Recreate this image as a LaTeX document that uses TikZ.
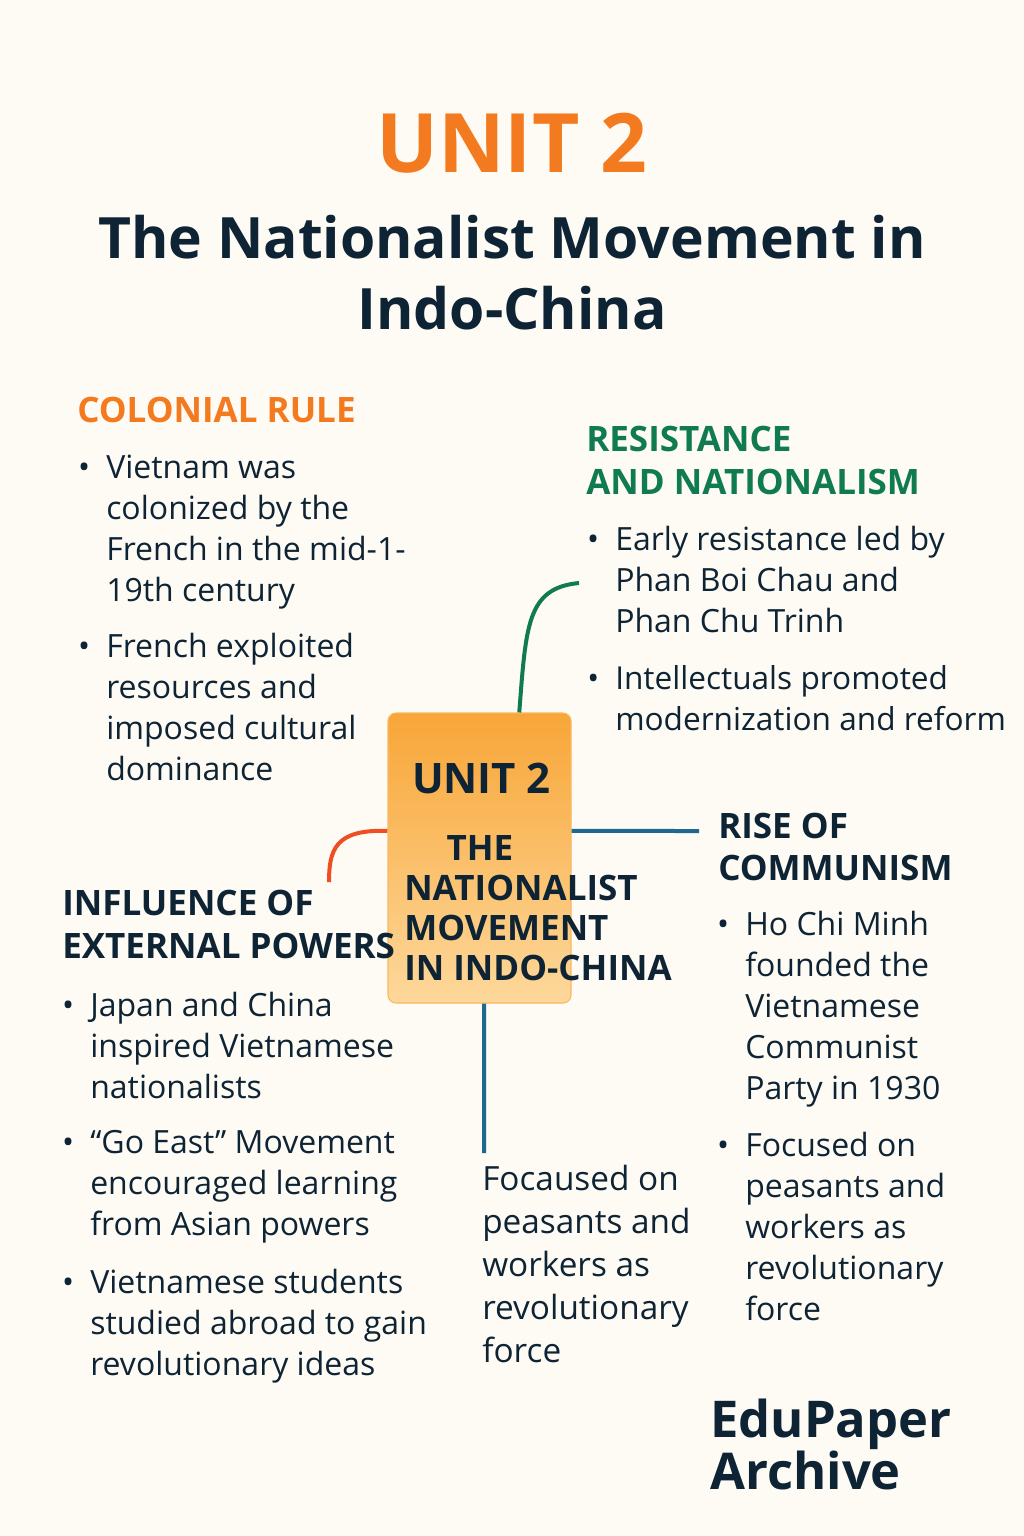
\documentclass[tikz,border=0pt]{standalone}
\usepackage{fontspec}
\setmainfont{Open Sans}
\usetikzlibrary{calc}
\definecolor{paper}{HTML}{FDFBF4}
\definecolor{ink}{HTML}{0E2334}
\definecolor{unitorange}{HTML}{F47A20}
\definecolor{resgreen}{HTML}{107A50}
\definecolor{linkred}{HTML}{EF4E23}
\definecolor{linkblue}{HTML}{1F698E}
\definecolor{boxtop}{HTML}{F8A638}
\definecolor{boxbot}{HTML}{FDD89B}
\newcommand{\bul}{\llap{•\hspace{12pt}}}

\begin{document}
\begin{tikzpicture}[x=0.75pt,y=-0.75pt,
 body/.style={anchor=base west,align=left,inner sep=0pt,text=ink,font=\fontsize{24}{30.75}\selectfont},
 head/.style={anchor=base west,align=left,inner sep=0pt,font=\bfseries\fontsize{26.25}{32.25}\selectfont},
 boxhead/.style={inner sep=0pt,text=ink,font=\bfseries\fontsize{26.25}{30}\selectfont},
 link/.style={line width=3pt}]
 \fill[paper] (0,0) rectangle (1024,1536);
 \useasboundingbox (0,0) rectangle (1024,1536);
 % title (multi-line nodes sit on their last baseline)
 \node[anchor=base,inner sep=0pt,text=unitorange,font=\bfseries\fontsize{61.5}{70}\selectfont] (unit) at (512,172) {UNIT 2};
 \node[anchor=base,align=center,inner sep=0pt,text=ink,font=\bfseries\fontsize{42.75}{53.25}\selectfont] (sub) at (512,329) {The Nationalist Movement in\\Indo-China};
 % centre box
 \node[draw=boxtop!80!white,line width=0.8pt,rounded corners=6pt,top color=boxtop,bottom color=boxbot,minimum width=137.25pt,minimum height=217.5pt,inner sep=0pt] (box) at (479.5,858) {};
 \node[boxhead,anchor=base,font=\bfseries\fontsize{31.5}{36}\selectfont] (bunit) at (481.5,793) {UNIT 2};
 \node[boxhead,anchor=base] (bthe) at (480,860) {THE};
 \node[boxhead,anchor=base west,align=left] (bname) at (404,980) {NATIONALIST\\MOVEMENT\\IN INDO-CHINA};
 % colonial rule
 \node[head,text=unitorange] (colh) at (77,422) {COLONIAL RULE};
 \node[body] (col1) at (106,601) {\bul Vietnam was\\colonized by the\\French in the mid-1-\\19th century};
 \node[body] (col2) at (106,780) {\bul French exploited\\resources and\\imposed cultural\\dominance};
 % resistance
 \node[head,text=resgreen] (resh) at (586,494) {RESISTANCE\\AND NATIONALISM};
 \node[body] (res1) at (615,632) {\bul Early resistance led by\\Phan Boi Chau and\\Phan Chu Trinh};
 \node[body,font=\fontsize{23.7}{30.75}\selectfont] (res2) at (615,730) {\bul Intellectuals promoted\\modernization and reform};
 % communism
 \node[head,text=ink,font=\bfseries\fontsize{26.25}{31.5}\selectfont] (comh) at (718,880) {RISE OF\\COMMUNISM};
 \node[body] (com1) at (745,1099) {\bul Ho Chi Minh\\founded the\\Vietnamese\\Communist\\Party in 1930};
 \node[body] (com2) at (745,1320) {\bul Focused on\\peasants and\\workers as\\revolutionary\\force};
 % external powers
 \node[head,text=ink] (exth) at (62,958) {INFLUENCE OF\\EXTERNAL POWERS};
 \node[body] (ext1) at (90,1098) {\bul Japan and China\\inspired Vietnamese\\nationalists};
 \node[body] (ext2) at (90,1235) {\bul “Go East” Movement\\encouraged learning\\from Asian powers};
 \node[body] (ext3) at (90,1375) {\bul Vietnamese students\\studied abroad to gain\\revolutionary ideas};
 % below the box
 \node[body,font=\fontsize{25}{32.25}\selectfont] (foc) at (482,1362) {Focaused on\\peasants and\\workers as\\revolutionary\\force};
 % brand
 \node[anchor=base west,align=left,inner sep=0pt,text=ink,font=\bfseries\fontsize{38}{38.5}\selectfont] (brand) at (710,1489) {EduPaper\\Archive};
 % connectors
 \coordinate (gEnd) at (579,583);
 \coordinate (rEnd) at (329,882);
 \coordinate (cEnd) at (699,831);
 \coordinate (fEnd) at (484,1153);
 \draw[link,resgreen] ($(box.north west)!0.716!(box.north east)$) .. controls (526,625) and (527,588) .. (gEnd);
 \draw[link,linkred] ($(box.north west)!0.407!(box.south west)$) .. controls (335,829) and (329,850) .. (rEnd);
 \draw[link,linkblue] ($(box.north east)!0.407!(box.south east)$) -- (cEnd);
 \draw[link,linkblue] ($(box.south west)!0.525!(box.south east)$) -- (fEnd);
\end{tikzpicture}
\end{document}
